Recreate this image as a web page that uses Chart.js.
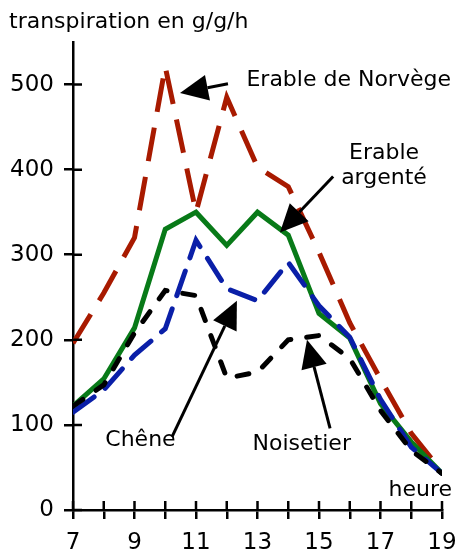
<!DOCTYPE html>
<html>
<head>
<meta charset="utf-8">
<script src="https://cdn.jsdelivr.net/npm/chart.js@4"></script>
<style>
  html, body { margin: 0; padding: 0; background: #fff; }
  #wrap { width: 457px; height: 556px; }
</style>
</head>
<body>
<div id="wrap"><canvas id="chart" width="457" height="556"></canvas></div>
<script>
// hours of the day
const hours = [7, 8, 9, 10, 11, 12, 13, 14, 15, 16, 17, 18, 19];

// transpiration in g/g/h
const erableNorvege = [196, 255, 320, 521, 350, 485, 403, 380, 303, 220, 154, 90, 45];
const erableArgente = [122, 154, 214, 330, 350, 311, 350, 323, 231, 202, 125, 80, 43];
const chene = [115, 141, 182, 213, 317, 260, 246, 291, 240, 203, 130, 74, 43];
const noisetier = [122, 147, 208, 258, 252, 155, 162, 200, 205, 178, 117, 70, 43];

const yTicks = [0, 100, 200, 300, 400, 500];
const xTicks = [7, 8, 9, 10, 11, 12, 13, 14, 15, 16, 17, 18, 19];

// labels with their arrows (data coordinates: hour, value)
const labels = [
    { text: ['Erable de Norvège'], at: [12.64, 498], tail: [12.04, 501], tip: [10.48, 490] },
    { text: ['Erable', 'argenté'], at: [15.72, 412], tail: [15.46, 392], tip: [13.73, 326] },
    { text: ['Chêne'], at: [8.05, 75], tail: [10.22, 86], tip: [12.33, 246] },
    { text: ['Noisetier'], at: [12.84, 71], tail: [15.36, 96], tip: [14.61, 200] }
];

function points(values) {
    return hours.map((h, i) => ({ x: h, y: values[i] }));
}

const FONT = '"DejaVu Sans", Verdana, sans-serif';

// inner half of the tick marks, the title and the arrows
const extras = {
    id: 'extras',
    afterDraw(chart) {
        const ctx = chart.ctx;
        const xs = chart.scales.x;
        const ys = chart.scales.y;
        const area = chart.chartArea;

        ctx.save();
        ctx.strokeStyle = '#000';
        ctx.lineWidth = 2.5;
        ctx.beginPath();
        yTicks.forEach(v => {
            const y = ys.getPixelForValue(v);
            ctx.moveTo(area.left, y);
            ctx.lineTo(area.left + 9, y);
        });
        xTicks.forEach(v => {
            const x = xs.getPixelForValue(v);
            ctx.moveTo(x, area.bottom);
            ctx.lineTo(x, area.bottom - 9);
        });
        ctx.stroke();

        ctx.fillStyle = '#000';
        ctx.font = '22px ' + FONT;
        ctx.textBaseline = 'alphabetic';
        ctx.textAlign = 'left';
        ctx.fillText('transpiration en g/g/h', 9, 28);
        ctx.textAlign = 'right';
        ctx.fillText('heure', area.right + 10, 496);

        labels.forEach(l => {
            const tx = xs.getPixelForValue(l.tip[0]);
            const ty = ys.getPixelForValue(l.tip[1]);
            const sx = xs.getPixelForValue(l.tail[0]);
            const sy = ys.getPixelForValue(l.tail[1]);
            const ang = Math.atan2(ty - sy, tx - sx);
            const len = 28, half = 13;
            const bx = tx - len * Math.cos(ang);
            const by = ty - len * Math.sin(ang);
            ctx.lineWidth = 3;
            ctx.beginPath();
            ctx.moveTo(sx, sy);
            ctx.lineTo(bx, by);
            ctx.stroke();
            ctx.beginPath();
            ctx.moveTo(tx, ty);
            ctx.lineTo(bx + half * Math.sin(ang), by - half * Math.cos(ang));
            ctx.lineTo(bx - half * Math.sin(ang), by + half * Math.cos(ang));
            ctx.closePath();
            ctx.fill();

            ctx.textAlign = 'left';
            const lx = xs.getPixelForValue(l.at[0]);
            const ly = ys.getPixelForValue(l.at[1]);
            const maxW = Math.max(...l.text.map(s => ctx.measureText(s).width));
            l.text.forEach((t, i) => {
                const w = ctx.measureText(t).width;
                ctx.fillText(t, lx + (maxW - w) / 2, ly + i * 25);
            });
        });
        ctx.restore();
    }
};

new Chart(document.getElementById('chart'), {
    type: 'line',
    data: {
        datasets: [
            {
                label: 'Noisetier', data: points(noisetier), order: 1,
                borderColor: '#000000', borderWidth: 5, borderDash: [12, 16], borderCapStyle: 'round'
            },
            {
                label: 'Chêne', data: points(chene), order: 2,
                borderColor: '#0a1fa8', borderWidth: 5, borderDash: [26, 14], borderCapStyle: 'round'
            },
            {
                label: 'Erable argenté', data: points(erableArgente), order: 3,
                borderColor: '#087a18', borderWidth: 5
            },
            {
                label: 'Erable de Norvège', data: points(erableNorvege), order: 4,
                borderColor: '#a81a00', borderWidth: 5, borderDash: [34, 16]
            }
        ]
    },
    options: {
        responsive: false,
        animation: false,
        layout: { padding: { top: 42, right: 15, left: 0, bottom: 0 } },
        elements: { point: { radius: 0 }, line: { tension: 0, borderJoinStyle: 'miter' } },
        plugins: { legend: { display: false }, tooltip: { enabled: false } },
        scales: {
            x: {
                type: 'linear', min: 7, max: 19,
                afterBuildTicks: s => { s.ticks = xTicks.map(v => ({ value: v })); },
                afterFit: s => { s.height = 46; s.paddingLeft = 0; s.paddingRight = 0; },
                grid: { drawOnChartArea: false, color: '#000', lineWidth: 2.5, tickLength: 9 },
                border: { color: '#000', width: 2.5 },
                ticks: {
                    color: '#000', padding: 10, maxRotation: 0, autoSkip: false,
                    font: { family: FONT, size: 23 },
                    callback: v => (v % 2 === 1 ? String(v) : '')
                }
            },
            y: {
                min: 0, max: 550,
                afterBuildTicks: s => { s.ticks = yTicks.map(v => ({ value: v })); },
                afterFit: s => { s.width = 73; s.paddingTop = 0; s.paddingBottom = 0; },
                grid: { drawOnChartArea: false, color: '#000', lineWidth: 2.5, tickLength: 9 },
                border: { color: '#000', width: 2.5 },
                ticks: {
                    color: '#000', padding: 10,
                    font: { family: FONT, size: 23 }
                }
            }
        }
    },
    plugins: [extras]
});
</script>
</body>
</html>
